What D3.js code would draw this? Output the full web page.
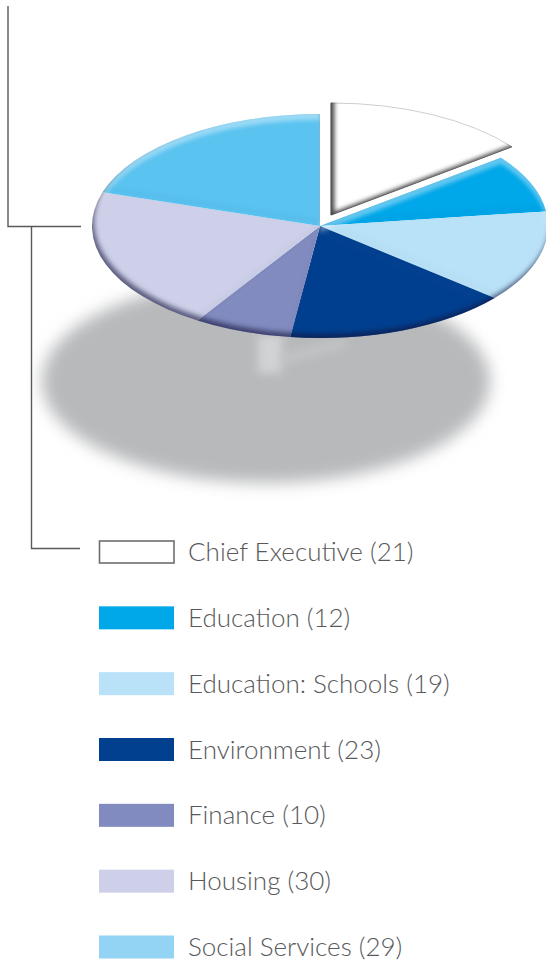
<!DOCTYPE html>
<html>
<head>
<meta charset="utf-8">
<script src="https://cdn.jsdelivr.net/npm/d3@7"></script>
<style>
    html, body { margin: 0; padding: 0; background: #fff; }
    svg { display: block; }
    .legendLabel { font-family: Lato, "Open Sans", sans-serif; font-weight: 300; font-size: 26px; fill: #58595b; }
    .connector { fill: none; stroke: #58595b; stroke-width: 1.4; }
</style>
</head>
<body>
<svg></svg>
<script>
const departments = ["Chief Executive", "Education", "Education: Schools", "Environment", "Finance", "Housing", "Social Services"];
const counts = [21, 12, 19, 23, 10, 30, 29];
const sliceColors = ["#ffffff", "#00a7e9", "#b9e2f8", "#003f8f", "#818bbf", "#cdd0e8", "#5ac3f0"];
const swatchColors = ["#ffffff", "#00a7e9", "#b9e2f8", "#003f8f", "#818bbf", "#cdd0e8", "#93d4f4"];

function drawChart() {
    const svgWidth = 546, svgHeight = 969;
    const center = { x: 320, y: 226 };
    const rx = 228, ry = 112;
    const explode = { x: 11, y: -11 };

    const svg = d3.select("svg")
        .attr("width", svgWidth)
        .attr("height", svgHeight);

    const defs = svg.append("defs");

    // inner shadow + top highlight, used for the pie
    function bevel(id, dark, light) {
        const f = defs.append("filter")
            .attr("id", id)
            .attr("x", -0.1).attr("y", -0.2)
            .attr("width", 1.2).attr("height", 1.4)
            .attr("color-interpolation-filters", "sRGB");
        f.append("feComponentTransfer").attr("in", "SourceAlpha").attr("result", "inv")
            .append("feFuncA").attr("type", "table").attr("tableValues", "1 0");
        const layers = [];
        [light, dark].forEach((s, i) => {
            if (!s) return;
            f.append("feOffset").attr("in", "inv").attr("dx", s.dx).attr("dy", s.dy).attr("result", "off" + i);
            f.append("feGaussianBlur").attr("in", "off" + i).attr("stdDeviation", s.blur).attr("result", "blur" + i);
            f.append("feFlood").attr("flood-color", s.color).attr("flood-opacity", s.opacity).attr("result", "flood" + i);
            f.append("feComposite").attr("in", "flood" + i).attr("in2", "blur" + i).attr("operator", "in").attr("result", "tint" + i);
            f.append("feComposite").attr("in", "tint" + i).attr("in2", "SourceAlpha").attr("operator", "in").attr("result", "layer" + i);
            layers.push("layer" + i);
        });
        const merge = f.append("feMerge");
        merge.append("feMergeNode").attr("in", "SourceGraphic");
        layers.forEach(l => merge.append("feMergeNode").attr("in", l));
    }
    bevel("pieBevel",
        { dx: 2, dy: -4, blur: 2.6, color: "#14143c", opacity: 0.62 },
        { dx: 0, dy: 6, blur: 2, color: "#ffffff", opacity: 0.4 });
    bevel("chiefBevel",
        { dx: 4, dy: -4, blur: 2.2, color: "#222222", opacity: 0.8 },
        null);

    defs.append("filter").attr("id", "soft")
        .attr("x", -0.2).attr("y", -0.3).attr("width", 1.4).attr("height", 1.6)
        .append("feGaussianBlur").attr("stdDeviation", 8);
    defs.append("filter").attr("id", "softSpot")
        .attr("x", -1).attr("y", -1).attr("width", 3).attr("height", 3)
        .append("feGaussianBlur").attr("stdDeviation", 5);
    defs.append("filter").attr("id", "softEdge")
        .attr("x", -0.05).attr("y", -0.2).attr("width", 1.1).attr("height", 1.4)
        .append("feGaussianBlur").attr("stdDeviation", 0.5);

    // ground shadow
    svg.append("ellipse")
        .attr("cx", 266).attr("cy", 381)
        .attr("rx", 224).attr("ry", 102)
        .attr("fill", "#b8b9bb")
        .attr("filter", "url(#soft)");
    svg.append("rect")
        .attr("x", 258).attr("y", 335)
        .attr("width", 24).attr("height", 38)
        .attr("fill", "#d2d3d4")
        .attr("filter", "url(#softSpot)");
    svg.append("line")
        .attr("x1", 280).attr("y1", 360)
        .attr("x2", 345).attr("y2", 343)
        .attr("stroke", "#c6c7c9").attr("stroke-width", 7)
        .attr("filter", "url(#softSpot)");

    // pie
    const pie = d3.pie().sort(null).value(d => d.count);
    const arc = d3.arc().innerRadius(0).outerRadius(100);
    const color = d3.scaleOrdinal().domain(departments).range(sliceColors);
    const rows = departments.map((name, i) => ({ name, count: counts[i] }));
    const slices = pie(rows);

    const scale = `scale(${rx / 100}, ${ry / 100})`;

    svg.append("g")
        .attr("filter", "url(#pieBevel)")
        .append("g")
        .attr("transform", `translate(${center.x}, ${center.y})`)
        .selectAll("path")
        .data(slices.slice(1))
        .join("path")
        .attr("transform", scale)
        .attr("d", arc)
        .attr("fill", d => color(d.data.name));

    // exploded slice
    svg.append("g")
        .attr("filter", "url(#chiefBevel)")
        .append("g")
        .attr("transform", `translate(${center.x + explode.x}, ${center.y + explode.y})`)
        .selectAll("path")
        .data(slices.slice(0, 1))
        .join("path")
        .attr("transform", scale)
        .attr("d", arc)
        .attr("fill", d => color(d.data.name))
        .attr("stroke", "#cfcfcf")
        .attr("stroke-width", 1)
        .attr("vector-effect", "non-scaling-stroke");

    // legend
    const y = d3.scalePoint().domain(departments).range([552, 947]);
    const swatch = d3.scaleOrdinal().domain(departments).range(swatchColors);

    const legend = svg.append("g")
        .selectAll("g")
        .data(rows)
        .join("g")
        .attr("transform", d => `translate(99, ${y(d.name)})`);

    legend.append("rect")
        .attr("x", d => d.name === departments[0] ? 0.5 : 0)
        .attr("y", d => d.name === departments[0] ? -11 : -11.5)
        .attr("width", d => d.name === departments[0] ? 74.5 : 75)
        .attr("height", d => d.name === departments[0] ? 22 : 23)
        .attr("fill", d => swatch(d.name))
        .attr("stroke", d => d.name === departments[0] ? "#6d6e71" : "none")
        .attr("stroke-width", 1.6)
        .attr("filter", "url(#softEdge)");

    legend.append("text")
        .attr("class", "legendLabel")
        .attr("x", 89)
        .attr("dy", "0.35em")
        .text(d => `${d.name} (${d.count})`);

    // connector lines
    svg.append("path").attr("class", "connector")
        .attr("d", "M8,6V226.5H81");
    svg.append("path").attr("class", "connector")
        .attr("d", "M31.5,226.5V548.5H80");
}

// run
drawChart();
</script>
</body>
</html>
